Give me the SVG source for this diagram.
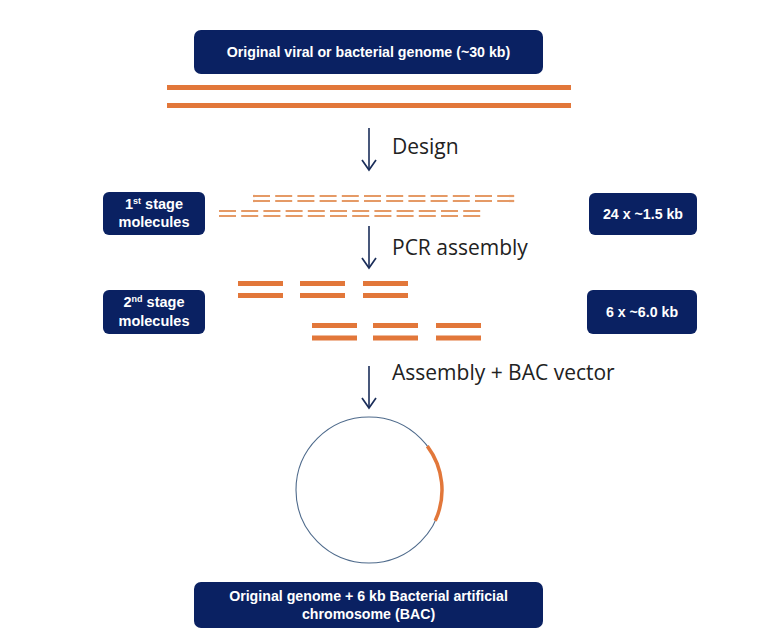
<svg xmlns="http://www.w3.org/2000/svg" width="768" height="644" viewBox="0 0 768 644">
<defs>
<style>
.box{fill:#0A2162;}
.bt{fill:#fff;font-family:"Liberation Sans",Arial,sans-serif;font-weight:bold;font-size:14.2px;text-anchor:middle;}
.st{font-size:14.5px;}
.lbl{fill:#222;font-family:"Open Sans","Liberation Sans",sans-serif;font-size:21px;}
.arr{stroke:#1B2E5A;stroke-width:1.6;fill:none;}
.thick{stroke:#E2773A;stroke-width:5;}
.thin{stroke:#E59A66;stroke-width:2.2;}
</style>
<marker id="ah" viewBox="0 0 16 16" refX="13" refY="8" markerWidth="16" markerHeight="16" markerUnits="userSpaceOnUse" orient="auto">
<polyline points="3,1 13,8 3,15" fill="none" stroke="#1B2E5A" stroke-width="1.7"/>
</marker>
</defs>
<rect width="768" height="644" fill="#fff"/>

<g id="top-genome">
<rect class="box" x="194" y="30" width="349" height="44" rx="7"/>
<text class="bt" x="368.5" y="57">Original viral or bacterial genome (~30 kb)</text>
<line class="thick" x1="167" y1="87.5" x2="571" y2="87.5"/>
<line class="thick" x1="167" y1="105.5" x2="571" y2="105.5"/>
</g>

<g id="stage1">
<rect class="box" x="103" y="192" width="102" height="43" rx="6"/>
<text class="bt st" x="154" y="209">1<tspan font-size="9" dy="-5">st</tspan><tspan dy="5"> stage</tspan></text>
<text class="bt st" x="154" y="227">molecules</text>
<g stroke-dasharray="17 5.2">
<line class="thin" x1="253" y1="196" x2="519" y2="196"/>
<line class="thin" x1="253" y1="201" x2="519" y2="201"/>
<line class="thin" x1="219" y1="211" x2="481" y2="211"/>
<line class="thin" x1="219" y1="216" x2="481" y2="216"/>
</g>
<rect class="box" x="589" y="193" width="108" height="42" rx="6"/>
<text class="bt" x="643" y="219">24 x ~1.5 kb</text>
</g>

<g id="stage2">
<rect class="box" x="103" y="290" width="102" height="44" rx="6"/>
<text class="bt st" x="154" y="307">2<tspan font-size="9" dy="-5">nd</tspan><tspan dy="5"> stage</tspan></text>
<text class="bt st" x="154" y="326">molecules</text>
<g>
<line class="thick" x1="238" y1="283.5" x2="283" y2="283.5"/>
<line class="thick" x1="238" y1="295.5" x2="283" y2="295.5"/>
<line class="thick" x1="300" y1="283.5" x2="345" y2="283.5"/>
<line class="thick" x1="300" y1="295.5" x2="345" y2="295.5"/>
<line class="thick" x1="363" y1="283.5" x2="408" y2="283.5"/>
<line class="thick" x1="363" y1="295.5" x2="408" y2="295.5"/>
<line class="thick" x1="312" y1="325.5" x2="357" y2="325.5"/>
<line class="thick" x1="312" y1="338" x2="357" y2="338"/>
<line class="thick" x1="373" y1="325.5" x2="418" y2="325.5"/>
<line class="thick" x1="373" y1="338" x2="418" y2="338"/>
<line class="thick" x1="436" y1="325.5" x2="481" y2="325.5"/>
<line class="thick" x1="436" y1="338" x2="481" y2="338"/>
</g>
<rect class="box" x="587" y="290" width="110" height="44" rx="6"/>
<text class="bt" x="642" y="317">6 x ~6.0 kb</text>
</g>

<g id="bac">
<circle cx="369" cy="490" r="73" fill="none" stroke="#4F6B8C" stroke-width="1.1"/>
<path d="M 427.3 446.1 A 73 73 0 0 1 435.2 520.8" fill="none" stroke="#E2773A" stroke-width="3.5"/>
</g>

<g id="bottom-box">
<rect class="box" x="194" y="582" width="349" height="46" rx="7"/>
<text class="bt" x="368.5" y="601">Original genome + 6 kb Bacterial artificial</text>
<text class="bt" x="368.5" y="619">chromosome (BAC)</text>
</g>

<g id="connectors">
<line class="arr" x1="369" y1="128" x2="369" y2="170" marker-end="url(#ah)"/>
<text class="lbl" x="392" y="154">Design</text>
<line class="arr" x1="369" y1="226" x2="369" y2="268" marker-end="url(#ah)"/>
<text class="lbl" x="392" y="255">PCR assembly</text>
<line class="arr" x1="369" y1="366" x2="369" y2="408" marker-end="url(#ah)"/>
<text class="lbl" x="392" y="380">Assembly + BAC vector</text>
</g>
</svg>
